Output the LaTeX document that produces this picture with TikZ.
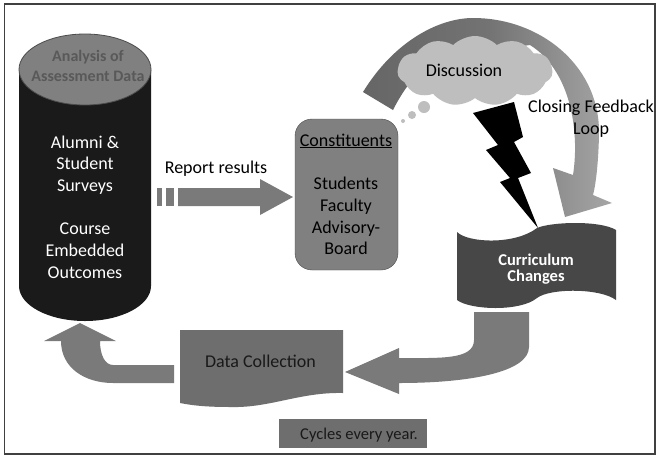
\documentclass[tikz,border=0pt]{standalone}
\usepackage{fontspec}
\setmainfont{Carlito}
\usetikzlibrary{shapes.symbols}
\definecolor{arrowgray}{HTML}{7A7A7A}
\definecolor{boxgray}{HTML}{808080}
\definecolor{paneldark}{HTML}{6E6E6E}
\definecolor{darkgray}{HTML}{474747}
\definecolor{blackish}{HTML}{1A1A1A}
\definecolor{cloudgray}{HTML}{BEBEBE}
\tikzset{
  label16/.style={font=\fontsize{18}{21.7}\selectfont,align=center,text=#1},
  label16/.default=black,
  bubble/.style={circle,fill=cloudgray,inner sep=0pt},
}
\begin{document}
\begin{tikzpicture}[x=1pt,y=-1pt]
    \useasboundingbox (0,0) rectangle (659,456);
    \fill[white] (0,0) rectangle (659,456);
    \draw[line width=1.4pt,draw=black!75] (4.5,4) rectangle (655,454);

    \fill[blackish] (19,70) -- (19,286) arc (180:0:66 and 35) -- (151,70) -- cycle;
    \draw[fill=boxgray,draw=black!70,thick] (85,69.5) ellipse (66 and 35.5);
    \node[font=\fontsize{16}{20}\selectfont\bfseries,align=center,text=black!65] (analysis) at (88,66) {Analysis of\\Assessment Data};
    \node[label16=white] (surveys) at (85,207) {Alumni \&\\Student\\Surveys\\[21.7pt]Course\\Embedded\\Outcomes};

    \draw[fill=boxgray,draw=black!70,rounded corners=17pt] (295,119) rectangle (398,270);
    \node[label16=black] (constituents) at (346,141) {\underline{Constituents}};
    \node[label16=black] (members) at (346,216) {Students\\Faculty\\Advisory-\\Board};

    \fill[arrowgray] (157,188) rectangle (162,206);
    \fill[arrowgray] (166,188) rectangle (174,206);
    \fill[arrowgray] (178,188) -- (260,188) -- (260,179) -- (293,197) -- (260,215) -- (260,206) -- (178,206) -- cycle;
    \node[label16=black] (report) at (216,169) {Report results};

    \shade[left color=black!60,right color=black!35,middle color=black!55]
      (363,92) .. controls (395,40) and (440,18) .. (473,18)
      .. controls (540,18) and (598,65) .. (599,130)
      .. controls (599,150) and (597,180) .. (593,195) -- (612,203) -- (565,217) -- (553,168) -- (573,175)
      .. controls (580,130) and (570,70) .. (530,45)
      -- (430,60) .. controls (415,75) and (403,90) .. (393,110) -- cycle;

    \node[cloud,cloud puffs=11,cloud puff arc=90,aspect=2.2,fill=cloudgray,minimum width=155pt,minimum height=70pt,inner sep=0pt] (cloudshape) at (475,71) {};
    \node[label16=black] (discussion) at (464,70) {Discussion};
    \node[bubble,minimum size=12pt] (bubblea) at (424,107) {};
    \node[bubble,minimum size=8pt] (bubbleb) at (412,115) {};
    \node[bubble,minimum size=4pt] (bubblec) at (403,121) {};
    \node[label16=black] (closing) at (591,119) {Closing Feedback\\Loop};

    \fill[black] (473,113) -- (514,102) -- (523,137) -- (514,142) -- (531,173) -- (518,178) -- (538,228) -- (500,182) -- (510,178) -- (486,150) -- (498,145) -- cycle;

    \fill[darkgray] (457,232) .. controls (468,243) and (515,245) .. (537,228)
      .. controls (550,222) and (600,220) .. (616,230)
      -- (616,300) .. controls (600,288) and (550,288) .. (537,298)
      .. controls (520,312) and (470,310) .. (457,300) -- cycle;
    \node[font=\fontsize{16.5}{16.5}\selectfont\bfseries,align=center,text=white] (curriculum) at (536,269) {Curriculum\\Changes};

    \fill[arrowgray] (474,312) -- (529,312) -- (529,347)
      .. controls (529,372) and (470,383) .. (399,383) -- (399,394) -- (345,372) -- (399,348) -- (399,358)
      .. controls (440,358) and (474,360) .. (474,340) -- cycle;

    \fill[paneldark] (180,330) -- (343,330) -- (343,393)
      .. controls (300,392) and (270,408) .. (231,407)
      .. controls (210,407) and (195,406) .. (180,403) -- cycle;
    \node[label16=black!90] (collection) at (260.5,361) {Data Collection};

    \fill[arrowgray] (174,365) -- (113,365) .. controls (105,365) and (100,355) .. (100,341)
      -- (116,341) -- (80,323) -- (44,341) -- (61,341)
      .. controls (61,368) and (85,383) .. (113,383) -- (174,383) -- cycle;

    \fill[paneldark] (279,419) rectangle (427,448);
    \node[font=\fontsize{16.5}{20}\selectfont,text=black!90] (cycles) at (359,435) {Cycles every year.};
\end{tikzpicture}
\end{document}
